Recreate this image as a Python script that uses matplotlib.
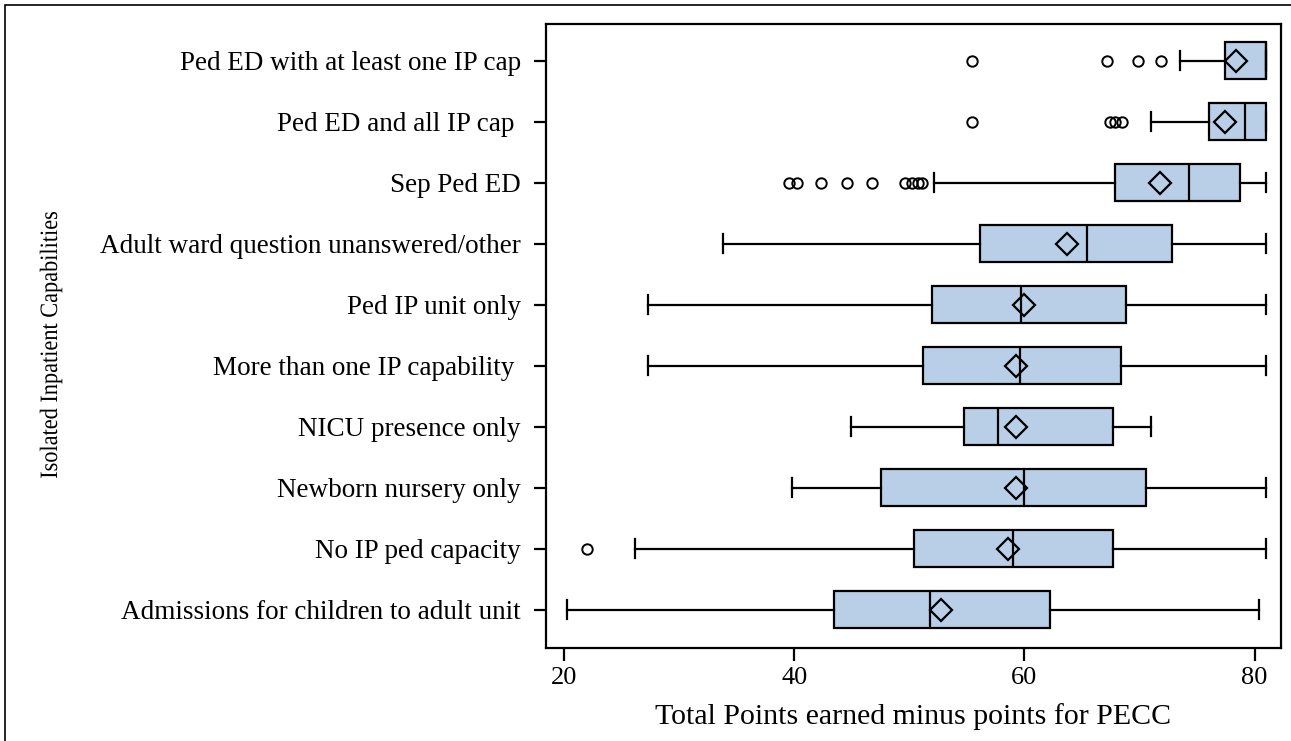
import matplotlib
matplotlib.use('Agg')
import matplotlib.pyplot as plt
from matplotlib.patches import Rectangle, PathPatch
from matplotlib.textpath import TextPath
from matplotlib.font_manager import FontProperties
from matplotlib.transforms import Affine2D

# Groups listed bottom to top on the y axis
groups = [
    'Admissions for children to adult unit',
    'No IP ped capacity',
    'Newborn nursery only',
    'NICU presence only',
    'More than one IP capability ',
    'Ped IP unit only',
    'Adult ward question unanswered/other',
    'Sep Ped ED',
    'Ped ED and all IP cap ',
    'Ped ED with at least one IP cap',
]

# Box summary per group (same order as groups)
whis_lo = [20.2, 26.1, 39.8, 44.9, 27.3, 27.3, 33.8, 52.1, 71.0, 73.5]
q1      = [43.4, 50.4, 47.5, 54.7, 51.2, 52.0, 56.1, 67.9, 76.0, 77.4]
medians = [51.8, 59.0, 60.0, 57.7, 59.6, 59.7, 65.4, 74.3, 79.2, 81.0]
means   = [52.7, 58.6, 59.3, 59.3, 59.3, 60.0, 63.7, 71.8, 77.4, 78.4]
q3      = [62.2, 67.7, 70.6, 67.7, 68.4, 68.8, 72.8, 78.7, 81.0, 81.0]
whis_hi = [80.4, 81.0, 81.0, 71.0, 81.0, 81.0, 81.0, 81.0, 81.0, 81.0]
outliers = [
    [],
    [22.0],
    [],
    [],
    [],
    [],
    [],
    [39.5, 40.2, 42.3, 44.6, 46.7, 49.6, 50.2, 50.7, 51.1],
    [55.4, 67.4, 67.9, 68.5],
    [55.4, 67.2, 69.9, 71.9],
]

y_title = 'Isolated Inpatient Capabilities'
x_title = 'Total Points earned minus points for PECC'

stats = []
for i in range(len(groups)):
    stats.append({
        'label': groups[i],
        'whislo': whis_lo[i],
        'q1': q1[i],
        'med': medians[i],
        'mean': means[i],
        'q3': q3[i],
        'whishi': whis_hi[i],
        'fliers': outliers[i],
    })

plt.rcParams['font.family'] = ['Liberation Serif', 'DejaVu Serif']

W, H = 1291, 741
fig = plt.figure(figsize=(W / 100, H / 100), dpi=100)
ax = fig.add_axes([546 / W, 1 - 648 / H, (1281 - 546) / W, (648 - 24) / H])

ax.bxp(
    stats,
    positions=range(len(groups)),
    vert=False,
    widths=0.6,
    capwidths=0.3,
    patch_artist=True,
    showmeans=True,
    boxprops=dict(facecolor='#b9cfe7', edgecolor='black', linewidth=1.6),
    medianprops=dict(color='black', linewidth=1.6),
    whiskerprops=dict(color='black', linewidth=1.6),
    capprops=dict(color='black', linewidth=1.6),
    meanprops=dict(marker='D', markerfacecolor='none', markeredgecolor='black',
                   markersize=11, markeredgewidth=1.6),
    flierprops=dict(marker='o', markerfacecolor='none', markeredgecolor='black',
                    markersize=7.5, markeredgewidth=1.4),
)

ax.set_xlim(18.4, 82.3)
ax.set_ylim(-0.63, 9.6)
ax.set_xticks([20, 40, 60, 80])
ax.set_yticks(range(len(groups)))
ax.set_yticklabels(groups)
ax.tick_params(axis='both', direction='out', length=9, width=1.6)
ax.tick_params(axis='y', pad=9, labelsize=19.5)
ax.tick_params(axis='x', pad=5, labelsize=19)

for side in ['left', 'bottom', 'top', 'right']:
    ax.spines[side].set_linewidth(1.6)

ax.set_xlabel(x_title, fontsize=21.5, labelpad=10)

# y title: tall, narrow lettering drawn as a path squeezed along its length
tp = TextPath((0, 0), y_title, size=25, prop=FontProperties(family='Liberation Serif'))
bb = tp.get_extents()
squeeze = 266 / bb.width
tr = (Affine2D()
      .translate(-(bb.x0 + bb.width / 2), -(bb.y0 + bb.height / 2))
      .scale(squeeze, 1)
      .rotate_deg(90)
      .translate(51, H - 345))
fig.add_artist(PathPatch(tp, transform=tr, facecolor='black', edgecolor='none'))

# thin frame round the whole graphic
fig.patches.append(Rectangle((5 / W, -0.01), 1.02, 1.0 - 5 / H + 0.01,
                             transform=fig.transFigure, fill=False,
                             edgecolor='black', linewidth=1.2, clip_on=False))

fig.savefig('out.png', dpi=100)
